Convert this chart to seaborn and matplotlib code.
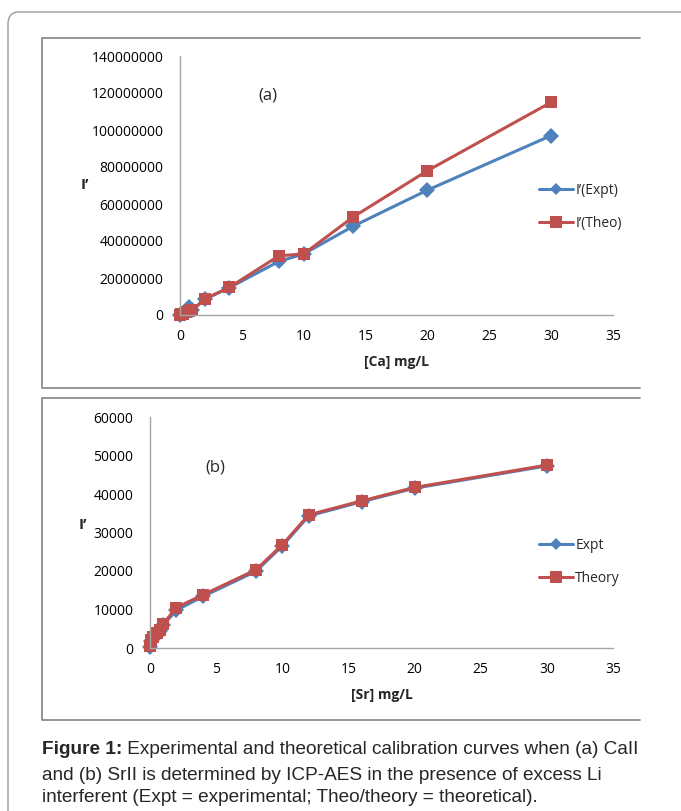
import numpy as np
import pandas as pd
import matplotlib
matplotlib.use("Agg")
import matplotlib.pyplot as plt
import seaborn as sns
from matplotlib.patches import FancyBboxPatch
from matplotlib.lines import Line2D

# ---------------- data ----------------
ca_conc = [0, 0.1, 0.25, 0.5, 0.75, 1, 2, 4, 8, 10, 14, 20, 30]
ca_expt = [0.2e6, 0.6e6, 1.2e6, 2.0e6, 4.2e6, 2.8e6, 8.5e6, 14.8e6, 29.0e6, 33.0e6, 48.0e6, 67.5e6, 97.0e6]
ca_theo = [0.1e6, 0.3e6, 0.8e6, 1.5e6, 2.0e6, 2.6e6, 8.6e6, 15.0e6, 32.0e6, 33.0e6, 53.0e6, 78.0e6, 115.0e6]

sr_conc = [0, 0.1, 0.25, 0.5, 0.75, 1, 2, 4, 8, 10, 12, 16, 20, 30]
sr_expt = [300, 1700, 2500, 3500, 4400, 6000, 9800, 13400, 19900, 26500, 34300, 38000, 41500, 47300]
sr_theo = [600, 2000, 2900, 3900, 4800, 6300, 10500, 13800, 20300, 26800, 34600, 38200, 41700, 47500]

ca_labels = ["I\u2019(Expt)", "I\u2019(Theo)"]
sr_labels = ["Expt", "Theory"]

BLUE = "#4F81BD"
RED = "#C0504D"
GRAY = "#A6A6A6"

sns.set_theme(style="white")
plt.rcParams['font.family'] = ['Open Sans', 'DejaVu Sans']

W, H = 681, 811
fig = plt.figure(figsize=(W / 100, H / 100), dpi=100)


def fx(x):
    return x / W


def fy(y):
    return 1 - y / H


# outer rounded frame
outer = FancyBboxPatch((fx(8), fy(900)), fx(700), fy(12) - fy(900),
                       boxstyle="round,pad=0,rounding_size=0.015",
                       transform=fig.transFigure, fill=False,
                       edgecolor="#9A9A9A", lw=1.0, clip_on=False)
fig.patches.append(outer)

# panel frames (top, left, bottom edges; right edge cropped)
for (top, bot) in [(38, 388), (398, 720)]:
    pts_x = [fx(640), fx(42), fx(42), fx(640)]
    pts_y = [fy(top), fy(top), fy(bot), fy(bot)]
    fig.lines.append(Line2D(pts_x, pts_y, transform=fig.transFigure,
                            color="#8C8C8C", lw=1.3))


def make_df(x, a, b, labels):
    return pd.DataFrame({
        "x": list(x) + list(x),
        "y": list(a) + list(b),
        "series": [labels[0]] * len(x) + [labels[1]] * len(x),
    })


def style_ax(ax, ymax, ystep):
    ax.set_xlim(0, 35)
    ax.set_ylim(0, ymax)
    ax.set_xticks(np.arange(0, 36, 5))
    ax.set_yticks(np.arange(0, ymax + 1, ystep))
    ax.yaxis.set_major_formatter(matplotlib.ticker.FuncFormatter(lambda v, p: f"{int(round(v))}"))
    for s in ["top", "right"]:
        ax.spines[s].set_visible(False)
    for s in ["left", "bottom"]:
        ax.spines[s].set_color(GRAY)
        ax.spines[s].set_linewidth(1.0)
    ax.tick_params(axis="both", which="major", direction="out", length=4,
                   width=0.8, color=GRAY, labelsize=10, labelcolor="black", pad=6)
    ax.tick_params(axis="y", pad=8)
    ax.set_facecolor("none")
    ax.grid(False)


# ---------------- panel (a) ----------------
ax1 = fig.add_axes([fx(180), fy(315), fx(613) - fx(180), fy(56) - fy(315)])
df1 = make_df(ca_conc, ca_expt, ca_theo, ca_labels)
sns.lineplot(data=df1, x="x", y="y", hue="series", style="series",
             palette={ca_labels[0]: BLUE, ca_labels[1]: RED},
             markers={ca_labels[0]: "D", ca_labels[1]: "s"},
             dashes=False, sort=False, lw=2.2, markersize=8,
             markeredgewidth=0, ax=ax1, legend=False, clip_on=False)
style_ax(ax1, 140000000, 20000000)
ax1.set_xlabel("[Ca] mg/L", fontsize=10, fontweight="bold", labelpad=8)
ax1.set_ylabel("")
fig.text(fx(85), fy(185), "I\u2019", fontsize=11, fontweight="bold", ha="center", va="center")
fig.text(fx(268), fy(95), "(a)", fontsize=12, ha="center", va="center")
h1 = [Line2D([], [], color=BLUE, lw=2.2, marker="D", markersize=6, markeredgewidth=0),
      Line2D([], [], color=RED, lw=2.2, marker="s", markersize=8, markeredgewidth=0)]
fig.legend(h1, ca_labels, loc="center left", bbox_to_anchor=(fx(533), fy(207)),
           frameon=False, fontsize=10, handlelength=2.5, handletextpad=0.15,
           labelspacing=1.3, borderaxespad=0)

# ---------------- panel (b) ----------------
ax2 = fig.add_axes([fx(150), fy(648), fx(613) - fx(150), fy(417) - fy(648)])
df2 = make_df(sr_conc, sr_expt, sr_theo, sr_labels)
sns.lineplot(data=df2, x="x", y="y", hue="series", style="series",
             palette={sr_labels[0]: BLUE, sr_labels[1]: RED},
             markers={sr_labels[0]: "D", sr_labels[1]: "s"},
             dashes=False, sort=False, lw=2.2, markersize=8,
             markeredgewidth=0, ax=ax2, legend=False, clip_on=False)
style_ax(ax2, 60000, 10000)
ax2.set_xlabel("[Sr] mg/L", fontsize=10, fontweight="bold", labelpad=8)
ax2.set_ylabel("")
fig.text(fx(83), fy(525), "I\u2019", fontsize=11, fontweight="bold", ha="center", va="center")
fig.text(fx(215), fy(467), "(b)", fontsize=12, ha="center", va="center")
h2 = [Line2D([], [], color=BLUE, lw=2.2, marker="D", markersize=6, markeredgewidth=0),
      Line2D([], [], color=RED, lw=2.2, marker="s", markersize=8, markeredgewidth=0)]
fig.legend(h2, sr_labels, loc="center left", bbox_to_anchor=(fx(533), fy(562)),
           frameon=False, fontsize=10, handlelength=2.5, handletextpad=0.15,
           labelspacing=1.3, borderaxespad=0)

# ---------------- caption ----------------
cap_font = ['Liberation Sans Narrow', 'Liberation Sans', 'DejaVu Sans']
lines = [
    ("Figure 1:", " Experimental and theoretical calibration curves when (a) CaII"),
    ("", "and (b) SrII is determined by ICP-AES in the presence of excess Li"),
    ("", "interferent (Expt = experimental; Theo/theory = theoretical)."),
]
ys = [750, 775, 798]
CAP_FS = 13.7
for (b, t), y in zip(lines, ys):
    if b:
        tb = fig.text(fx(42), fy(y), b, fontsize=CAP_FS, fontweight="bold",
                      family=cap_font, ha="left", va="center")
        fig.canvas.draw()
        bb = tb.get_window_extent()
        fig.text(bb.x1 / W, fy(y), t, fontsize=CAP_FS, family=cap_font,
                 ha="left", va="center")
    else:
        fig.text(fx(42), fy(y), t, fontsize=CAP_FS, family=cap_font,
                 ha="left", va="center")

fig.savefig("out.png", dpi=100)
